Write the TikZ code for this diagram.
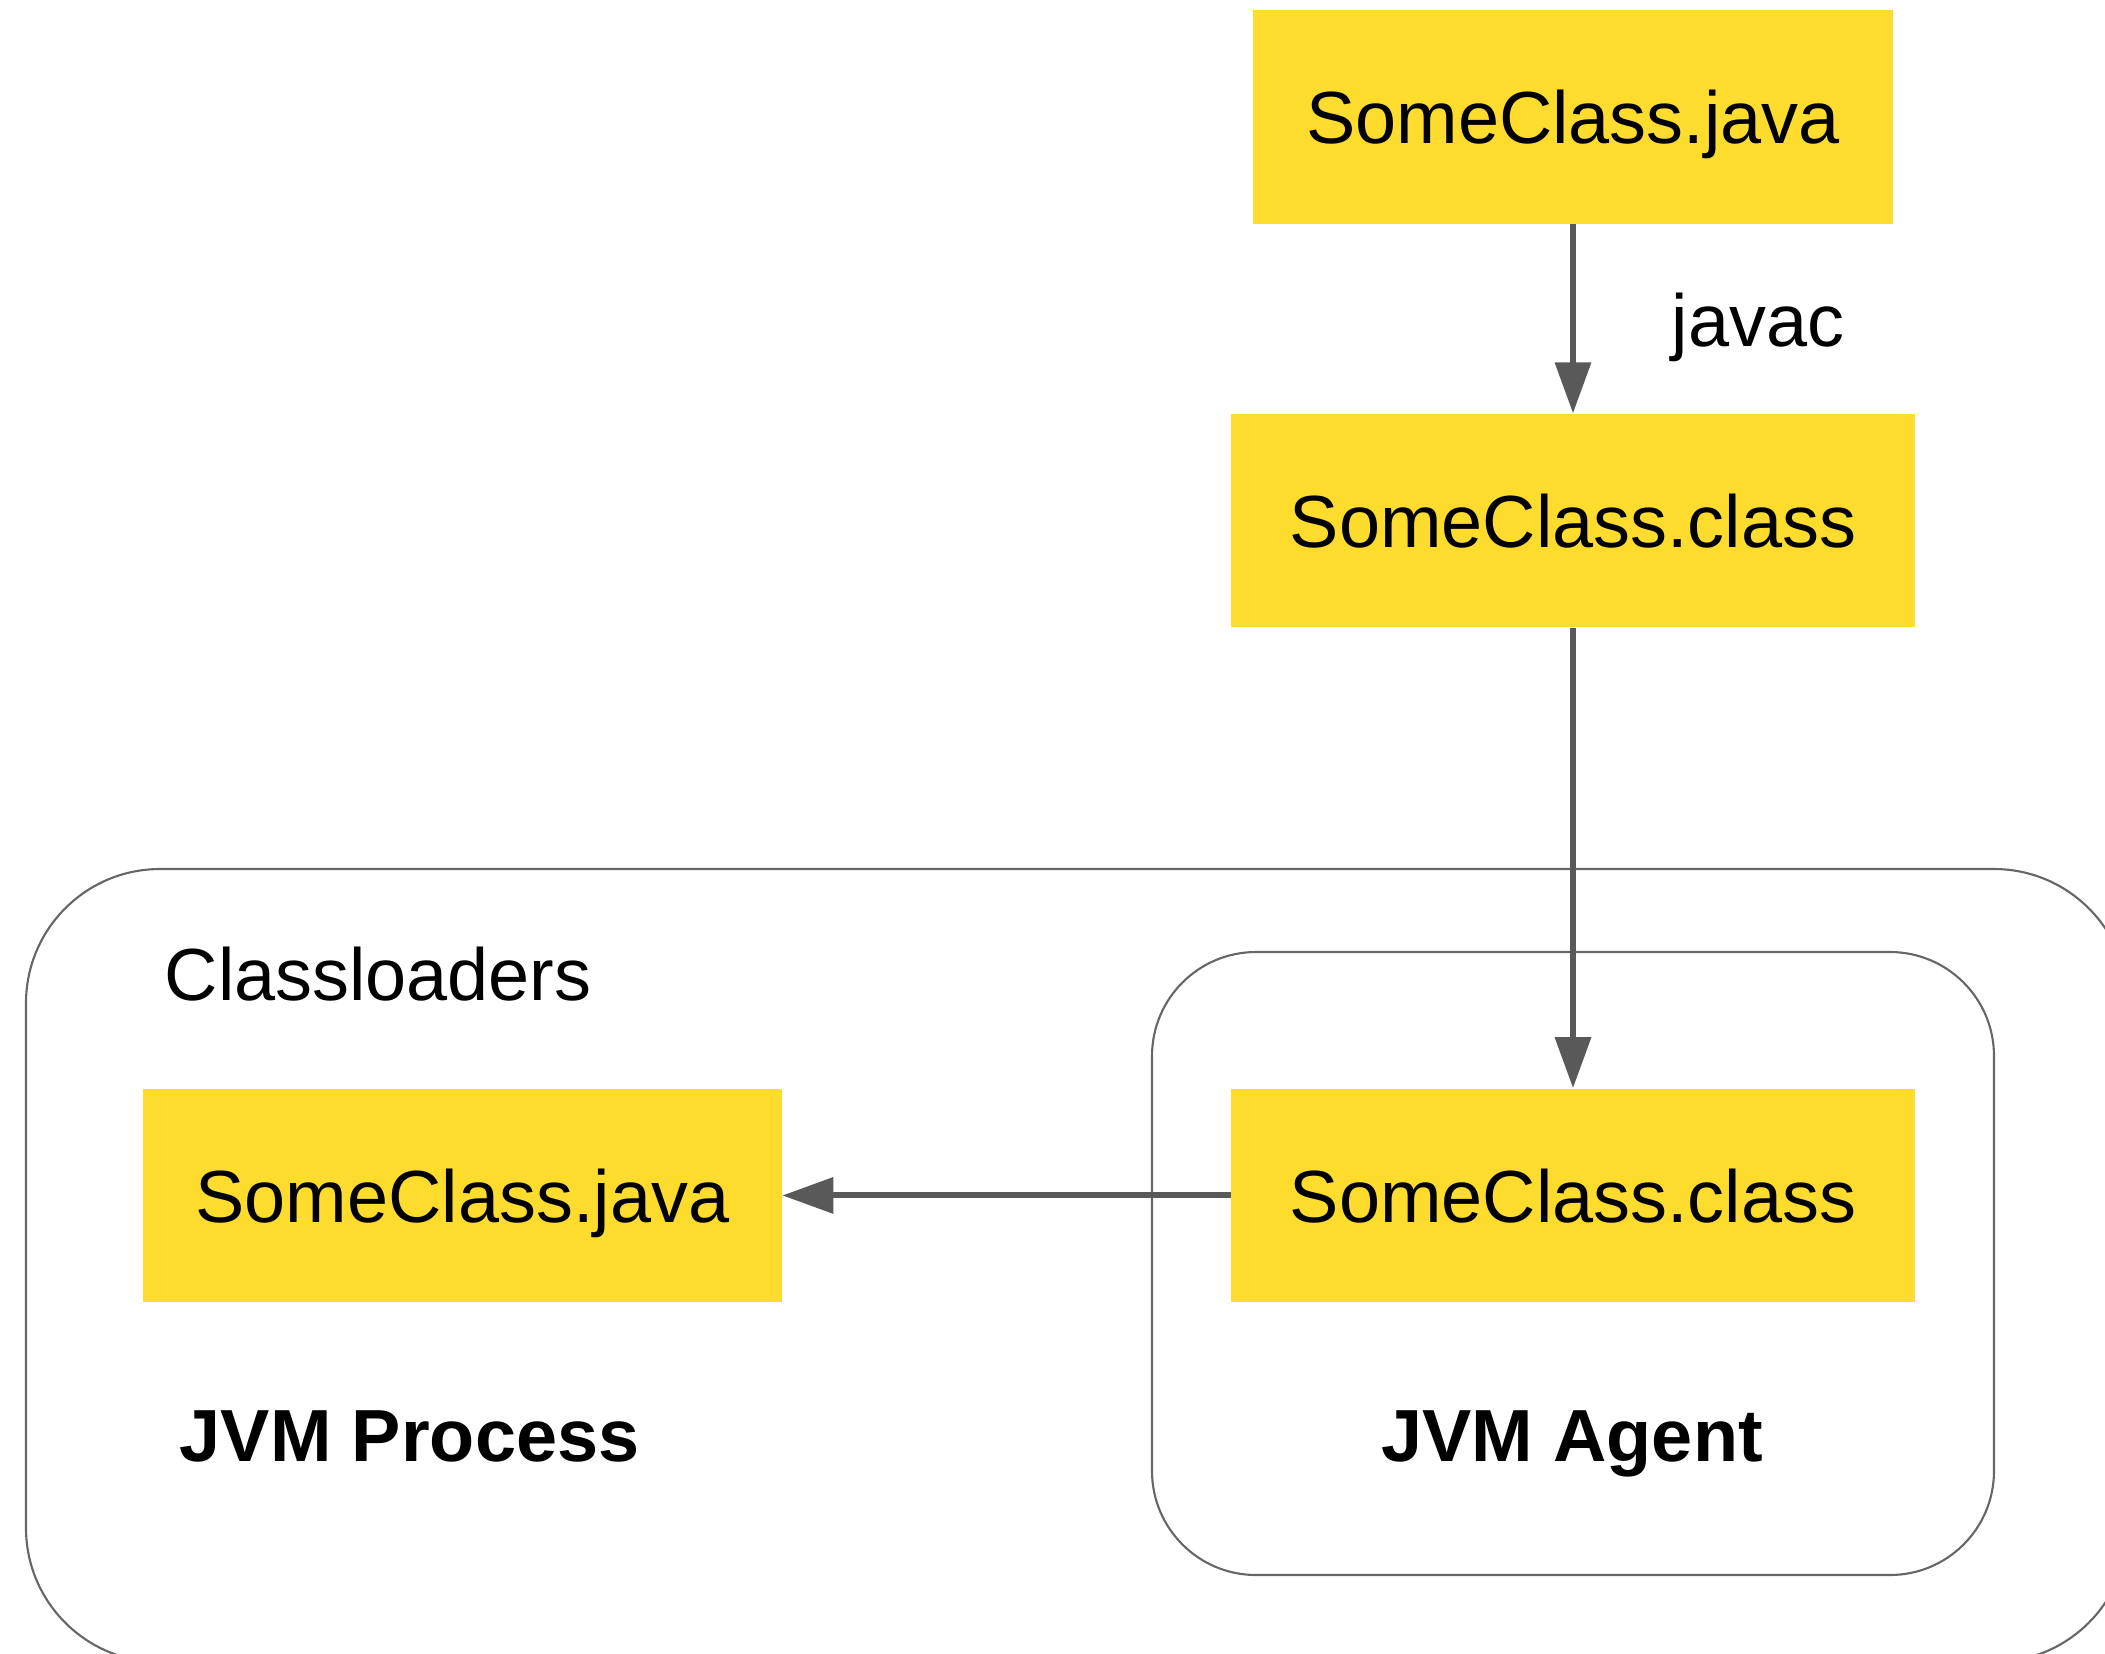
\documentclass[tikz,border=0pt]{standalone}
\usepackage{fontspec}
\setmainfont{Liberation Sans}
\usetikzlibrary{arrows.meta, positioning}
\definecolor{fileyellow}{HTML}{FDDC2E}
\definecolor{arrowgray}{HTML}{595959}
\definecolor{framegray}{HTML}{666666}

\begin{document}
\begin{tikzpicture}[x=0.01cm, y=-0.01cm, font=\fontsize{21}{25}\selectfont]
    % Styles
    \tikzstyle{file} = [rectangle, fill=fileyellow, minimum height=2.13cm, inner sep=0pt, text depth=0pt]
    \tikzstyle{flow} = [draw=arrowgray, line width=1.7pt, -{Triangle[length=14.5pt, width=10pt]}]
    \tikzstyle{group} = [draw=framegray, line width=0.6pt]
    \tikzstyle{caption} = [inner sep=0pt, anchor=base west]

    \useasboundingbox (0,0) rectangle (2105,1653);
    \clip (0,0) rectangle (2105,1653);

    % Containers (process runs off the page)
    \draw[group, rounded corners=1.34cm] (26,869) rectangle (2128,1662);
    \draw[group, rounded corners=1.04cm] (1152,952) rectangle (1994,1575);

    % Nodes
    \node at (1573,117) [file, minimum width=6.39cm] (src) {SomeClass.java};
    \node [file, minimum width=6.83cm, below=1.89cm of src] (bytecode) {SomeClass.class};
    \node [file, minimum width=6.83cm, below=4.6cm of bytecode] (agentcls) {SomeClass.class};
    \node [file, minimum width=6.38cm, left=4.48cm of agentcls] (loaded) {SomeClass.java};

    % Labels
    \node [caption] at (1671,346) (javac) {javac};
    \node [caption] at (164,1000) (loaders) {Classloaders};
    \node [caption, font=\fontsize{21}{25}\selectfont\bfseries] at (179,1461) (process) {JVM Process};
    \node [caption, anchor=base, font=\fontsize{21}{25}\selectfont\bfseries] at (1572,1461) (agent) {JVM Agent};

    % Connections
    \draw[flow] (src) -- (bytecode);
    \draw[flow] (bytecode) -- (agentcls);
    \draw[flow] (agentcls) -- (loaded);
\end{tikzpicture}
\end{document}
